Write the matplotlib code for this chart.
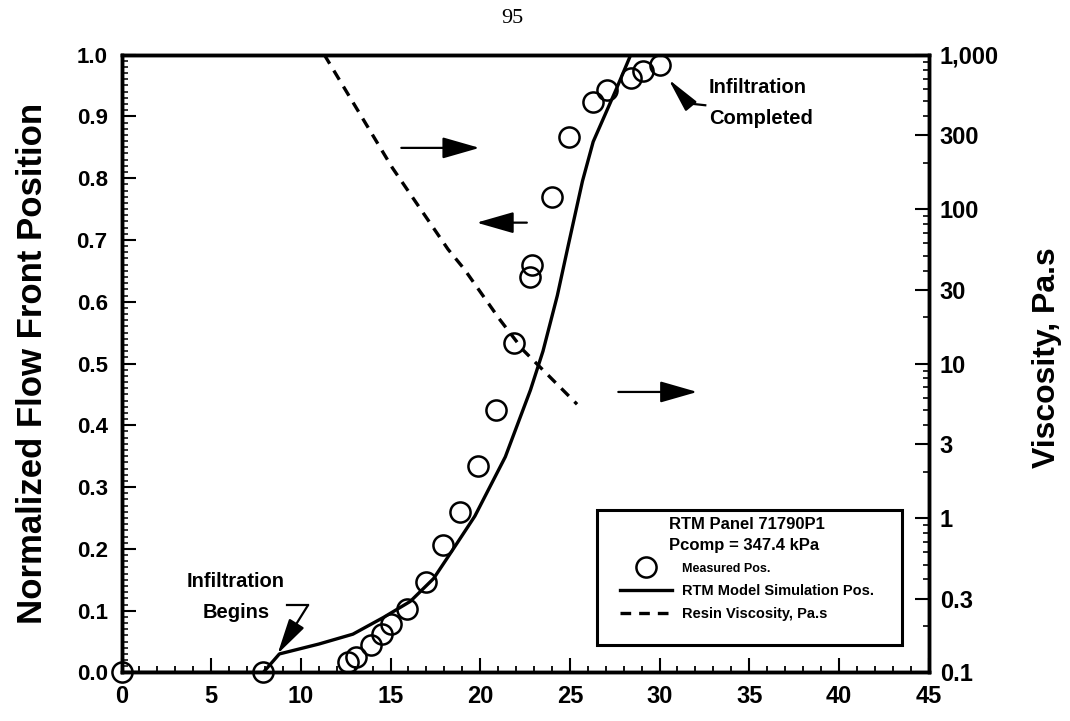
import matplotlib
matplotlib.use("Agg")
import matplotlib.pyplot as plt
from matplotlib.ticker import FixedLocator, FixedFormatter, MultipleLocator
from matplotlib.lines import Line2D
from matplotlib.patches import Rectangle

# ---------------------------------------------------------------
# Data
# ---------------------------------------------------------------
meas_time = [0.0, 7.9, 12.6, 13.05, 13.9, 14.55, 15.0, 15.9, 17.0, 17.9,
             18.9, 19.9, 20.9, 21.9, 22.8, 22.9, 24.0, 24.95, 26.3, 27.05,
             28.4, 29.1, 30.05]
meas_pos = [0.0, 0.0, 0.017, 0.025, 0.044, 0.062, 0.078, 0.102, 0.147, 0.206,
            0.260, 0.334, 0.424, 0.533, 0.640, 0.659, 0.769, 0.867, 0.923, 0.943,
            0.962, 0.974, 0.983]

model_time = [0.0, 7.9, 8.8, 11.0, 12.9, 14.6, 16.1, 17.4, 18.5, 19.7,
              21.4, 22.8, 23.5, 24.3, 24.9, 25.7, 26.3, 27.6, 28.4]
model_pos = [0.0, 0.0, 0.030, 0.046, 0.062, 0.089, 0.115, 0.152, 0.200, 0.253,
             0.349, 0.457, 0.52, 0.61, 0.69, 0.795, 0.859, 0.945, 1.0]

visc_time = [11.3, 15.1, 18.2, 19.1, 21.1, 22.4, 25.4]
visc_pas = [1000, 185, 55, 41, 19.2, 12.2, 5.45]

x_ticks = [0, 5, 10, 15, 20, 25, 30, 35, 40, 45]
left_ticks = [0.0, 0.1, 0.2, 0.3, 0.4, 0.5, 0.6, 0.7, 0.8, 0.9, 1.0]
right_ticks = [0.1, 0.3, 1, 3, 10, 30, 100, 300, 1000]
right_labels = ["0.1", "0.3", "1", "3", "10", "30", "100", "300", "1,000"]

legend_title = "RTM Panel 71790P1\nPcomp = 347.4 kPa"
legend_labels = ["Measured Pos.", "RTM Model Simulation Pos.", "Resin Viscosity, Pa.s"]

# ---------------------------------------------------------------
# Style
# ---------------------------------------------------------------
plt.rcParams['font.family'] = ['Liberation Sans', 'DejaVu Sans']
plt.rcParams['font.weight'] = 'bold'

SPINE_LW = 2.5
LINE_LW = 2.4
LEFT_FS = 16
RIGHT_FS = 17
XTICK_FS = 17

fig = plt.figure(figsize=(10.7, 7.21), dpi=100, facecolor='white')
ax = fig.add_axes([0.1136, 0.0673, 0.7542, 0.857])
ax2 = ax.twinx()

# measured circles + model line (left axis)
ax.plot(meas_time, meas_pos, linestyle='none', marker='o', markersize=14.5,
        markerfacecolor='none', markeredgecolor='black', markeredgewidth=1.8,
        clip_on=False, zorder=4)
ax.plot(model_time, model_pos, color='black', lw=LINE_LW, zorder=3)

# resin viscosity (right log axis)
ax2.plot(visc_time, visc_pas, color='black', lw=LINE_LW, dashes=(3.2, 2.4))
ax2.set_yscale('log')
ax2.set_ylim(0.1, 1000)

ax.set_xlim(0, 45)
ax.set_ylim(0, 1.0)

# ticks
ax.xaxis.set_major_locator(FixedLocator(x_ticks))
ax.xaxis.set_minor_locator(MultipleLocator(1))
ax.yaxis.set_major_locator(FixedLocator(left_ticks))
ax.yaxis.set_major_formatter(FixedFormatter([f"{v:.1f}" for v in left_ticks]))
ax.yaxis.set_minor_locator(MultipleLocator(0.01))
ax.tick_params(axis='both', which='both', direction='in', top=False, right=False)
ax.tick_params(axis='x', which='major', length=10, width=1.5, pad=9, labelsize=XTICK_FS)
ax.tick_params(axis='x', which='minor', length=4.5, width=1.3)
ax.tick_params(axis='y', which='major', length=10, width=1.5, pad=10, labelsize=LEFT_FS)
ax.tick_params(axis='y', which='minor', length=4, width=1.1)

minor_r = [m * 10.0 ** e for e in range(-1, 3) for m in (2, 4, 5, 6, 7, 8, 9)]
ax2.yaxis.set_major_locator(FixedLocator(right_ticks))
ax2.yaxis.set_major_formatter(FixedFormatter(right_labels))
ax2.yaxis.set_minor_locator(FixedLocator(minor_r))
ax2.yaxis.set_minor_formatter(FixedFormatter([]))
ax2.tick_params(axis='y', which='major', direction='in', length=10, width=1.5,
                pad=8, labelsize=RIGHT_FS)
ax2.tick_params(axis='y', which='minor', direction='in', length=4.5, width=1.2)

for a in (ax, ax2):
    for s in a.spines.values():
        s.set_linewidth(SPINE_LW)

ax.set_ylabel("Normalized Flow Front Position", fontsize=25, fontweight='bold')
ax.yaxis.set_label_coords(-0.09, 0.5)
ax2.set_ylabel("Viscosity, Pa.s", fontsize=23, fontweight='bold')
ax2.yaxis.set_label_coords(1.128, 0.51)

# page number of the scanned report
fig.text(0.479, 0.975, "95", ha='center', va='center', fontsize=16,
         family='Liberation Serif', fontweight='normal')

# ---------------------------------------------------------------
# Arrows and annotations
# ---------------------------------------------------------------
def arrow(tail, head, hl=1.15, hw=0.33, lw=1.6):
    ax.annotate('', xy=head, xytext=tail,
                arrowprops=dict(arrowstyle=f'-|>,head_length={hl},head_width={hw}',
                                mutation_scale=20, lw=lw, color='black',
                                shrinkA=0, shrinkB=0))

# axis pointers
arrow((15.6, 0.849), (19.96, 0.849))
arrow((22.6, 0.728), (19.8, 0.728))
arrow((27.7, 0.454), (32.1, 0.454))

# Infiltration Begins
ax.text(6.37, 0.122, "Infiltration\nBegins", ha='center', va='center',
        fontsize=14.5, linespacing=1.8)
ax.plot([9.2, 10.4], [0.109, 0.109], color='black', lw=1.6)
arrow((10.4, 0.109), (8.7, 0.030), hl=1.1, hw=0.27)

# Infiltration Completed
ax.text(32.75, 0.922, "Infiltration\nCompleted", ha='left', va='center',
        fontsize=14.5, linespacing=1.8)
ax.plot([31.6, 32.55], [0.921, 0.918], color='black', lw=1.6)
arrow((31.65, 0.92), (30.5, 0.96), hl=1.05, hw=0.22)

# ---------------------------------------------------------------
# Legend (framed box drawn separately to match the scan geometry)
# ---------------------------------------------------------------
box = Rectangle((0.589, 0.045), 0.378, 0.218, transform=ax2.transAxes,
                fill=True, facecolor='white', edgecolor='black', lw=2.2, zorder=5)
ax2.add_patch(box)

handles = [
    Line2D([], [], linestyle='none', marker='o', markersize=14.5,
           markerfacecolor='none', markeredgecolor='black', markeredgewidth=1.8),
    Line2D([], [], color='black', lw=LINE_LW),
    Line2D([], [], color='black', lw=LINE_LW, dashes=(3.2, 2.4)),
]
leg = ax2.legend(handles, legend_labels, title=legend_title,
                 loc='upper center', bbox_to_anchor=(0.775, 0.252),
                 frameon=False, borderaxespad=0, borderpad=0,
                 handlelength=3.6, handletextpad=0.65, labelspacing=0.62,
                 prop={'family': 'Liberation Sans', 'weight': 'bold', 'size': 10.5},
                 title_fontproperties={'family': 'Liberation Sans',
                                       'weight': 'bold', 'size': 12})
leg.set_zorder(6)
leg.get_title().set_linespacing(1.5)
leg.get_texts()[0].set_fontsize(9)

fig.savefig("out.png", dpi=100, facecolor='white')
